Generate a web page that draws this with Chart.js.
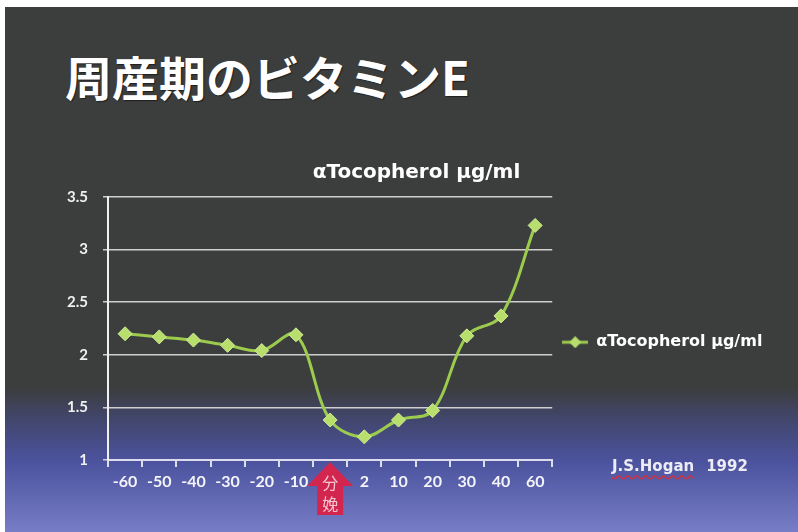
<!DOCTYPE html>
<html lang="ja">
<head>
<meta charset="utf-8">
<title>周産期のビタミンE</title>
<script src="https://cdn.jsdelivr.net/npm/chart.js@4.4.1/dist/chart.umd.min.js"></script>
<style>
    html, body {
        margin: 0;
        padding: 0;
        width: 798px;
        height: 532px;
        overflow: hidden;
        background: #ffffff;
    }
    .slide {
        position: absolute;
        left: 5px;
        top: 7px;
        width: 793px;
        height: 525px;
        background: linear-gradient(to bottom, #3c3d3d 0px, #3c3d3d 380px, #424770 415px, #4c539e 455px, #777dc6 525px);
    }
    .slide-title {
        position: absolute;
        left: 60px;
        top: 45px;
        margin: 0;
        font-family: "Noto Sans CJK JP", sans-serif;
        font-weight: 700;
        font-size: 47px;
        line-height: 1;
        color: #ffffff;
        text-shadow: 1px 1px 1px rgba(0, 0, 0, 0.5);
    }
    .chart-box {
        position: absolute;
        left: 50px;
        top: 148px;
        width: 735px;
        height: 360px;
    }
    .source {
        position: absolute;
        left: 607px;
        top: 450px;
        font-family: "DejaVu Sans", sans-serif;
        font-weight: 700;
        font-size: 15px;
        color: #ececf4;
    }
    .source .name {
        text-decoration: underline wavy #d03040;
        text-underline-offset: 3px;
        margin-right: 12px;
    }
</style>
</head>
<body>
<div class="slide">
    <h1 class="slide-title">周産期のビタミンE</h1>
    <div class="chart-box"><canvas id="vitaminChart"></canvas></div>
    <div class="source"><span class="name">J.S.Hogan</span>1992</div>
</div>

<script>
// days relative to calving; index 6 is calving itself
const categories = ['-60', '-50', '-40', '-30', '-20', '-10', ['分', '娩'], '2', '10', '20', '30', '40', '60'];
const tocopherol = [2.2, 2.17, 2.14, 2.09, 2.04, 2.19, 1.38, 1.22, 1.38, 1.47, 2.18, 2.37, 3.23];
const yTicks = [1, 1.5, 2, 2.5, 3, 3.5];
const seriesName = 'αTocopherol μg/ml';
const calvingIndex = 6;

const lineGreen = '#9ccb4e';
const markerGreen = '#b8df6c';

// legend marker: short line with a diamond, like the Excel legend
function legendMarker() {
    const c = document.createElement('canvas');
    c.width = 26;
    c.height = 12;
    const g = c.getContext('2d');
    g.strokeStyle = lineGreen;
    g.lineWidth = 3;
    g.beginPath();
    g.moveTo(0, 6);
    g.lineTo(26, 6);
    g.stroke();
    g.fillStyle = markerGreen;
    g.beginPath();
    g.moveTo(13, 0);
    g.lineTo(19, 6);
    g.lineTo(13, 12);
    g.lineTo(7, 6);
    g.closePath();
    g.fill();
    return c;
}

// red arrow pointing at calving on the x axis
const calvingArrow = {
    id: 'calvingArrow',
    afterDatasetsDraw(chart) {
        const { ctx, chartArea } = chart;
        const x = chart.scales.x.getPixelForValue(calvingIndex);
        const tip = chartArea.bottom + 2;
        const headH = 24;
        const headW = 23;
        const shaftW = 13;
        const bottom = chartArea.bottom + 62;
        ctx.save();
        ctx.fillStyle = '#d3264f';
        ctx.beginPath();
        ctx.moveTo(x, tip);
        ctx.lineTo(x + headW, tip + headH);
        ctx.lineTo(x + shaftW, tip + headH);
        ctx.lineTo(x + shaftW, bottom);
        ctx.lineTo(x - shaftW, bottom);
        ctx.lineTo(x - shaftW, tip + headH);
        ctx.lineTo(x - headW, tip + headH);
        ctx.closePath();
        ctx.fill();
        ctx.restore();
    }
};

// Excel centres the title over the whole chart object and lets the
// legend run to the edge, so widen both boxes after layout
const excelBoxes = {
    id: 'excelBoxes',
    afterLayout(chart) {
        if (chart.titleBlock) {
            chart.titleBlock.left = 0;
            chart.titleBlock.right = chart.width - 12;
        }
        if (chart.legend) {
            chart.legend.right = chart.width;
        }
    }
};

Chart.defaults.font.family = "Lato, 'Open Sans', sans-serif";
Chart.defaults.color = '#f2f2f2';

new Chart(document.getElementById('vitaminChart'), {
    type: 'line',
    data: {
        labels: categories,
        datasets: [{
            label: seriesName,
            data: tocopherol,
            borderColor: lineGreen,
            borderWidth: 3,
            tension: 0.35,
            pointStyle: 'rectRot',
            pointRadius: 7,
            pointBackgroundColor: markerGreen,
            pointBorderColor: '#d2ec9a',
            pointBorderWidth: 1
        }]
    },
    plugins: [calvingArrow, excelBoxes],
    options: {
        responsive: true,
        maintainAspectRatio: false,
        animation: false,
        layout: { padding: { right: 72 } },
        plugins: {
            title: {
                display: true,
                text: seriesName,
                color: '#ffffff',
                font: { family: "'DejaVu Sans', sans-serif", size: 20, weight: 'bold', lineHeight: 1 },
                padding: { top: 8, bottom: 14 }
            },
            legend: {
                position: 'right',
                title: { display: true, text: '', padding: 0 },
                labels: {
                    usePointStyle: true,
                    pointStyle: legendMarker(),
                    pointStyleWidth: 26,
                    padding: 10,
                    color: '#ffffff',
                    font: { family: "'DejaVu Sans', sans-serif", size: 16, weight: 'bold' }
                }
            },
            tooltip: { enabled: false }
        },
        scales: {
            x: {
                offset: true,
                afterFit: (scale) => { scale.height = 55; },
                border: { color: '#dcdcec', width: 2 },
                grid: {
                    offset: true,
                    drawOnChartArea: false,
                    drawTicks: true,
                    tickLength: 7,
                    color: '#dcdcec',
                    lineWidth: 2
                },
                ticks: {
                    z: 1,
                    padding: 5,
                    maxRotation: 0,
                    autoSkip: false,
                    color: (ctx) => ctx.index === calvingIndex ? '#f3c6d2' : '#f4f4fa',
                    font: (ctx) => ctx.index === calvingIndex
                        ? { family: "'Noto Sans CJK JP', sans-serif", size: 16, lineHeight: 1.35 }
                        : { size: 16, weight: 'bold' }
                }
            },
            y: {
                min: yTicks[0],
                max: yTicks[yTicks.length - 1],
                afterFit: (scale) => { scale.width = 53; },
                afterBuildTicks: (scale) => { scale.ticks = yTicks.map(v => ({ value: v })); },
                border: { color: '#f0f0f0', width: 2 },
                grid: {
                    color: '#cfcfcf',
                    lineWidth: 1.5,
                    tickLength: 5
                },
                ticks: {
                    padding: 15,
                    color: '#f0f0f0',
                    font: { size: 15, weight: 'bold' },
                    callback: (value) => String(value)
                }
            }
        }
    }
});
</script>
</body>
</html>
